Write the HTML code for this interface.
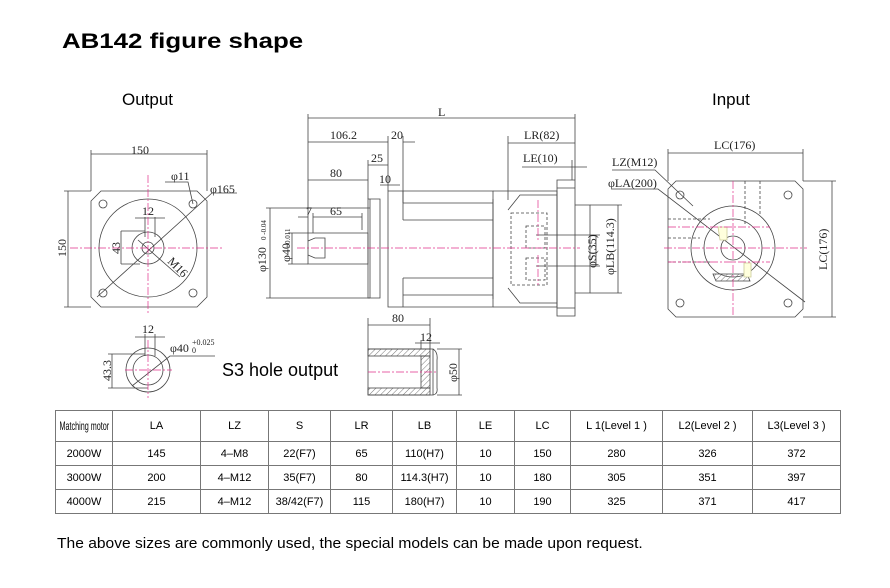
<!DOCTYPE html>
<html><head><meta charset="utf-8"><style>
body{margin:0;background:#fff;width:890px;height:588px;overflow:hidden;position:relative;font-family:"Liberation Sans",sans-serif}
.t{position:absolute;white-space:nowrap;transform-origin:0 0}
table{position:absolute;left:55px;top:410px;border-collapse:collapse;table-layout:fixed;width:785px;font-size:11px;font-family:"Liberation Sans",sans-serif}
td{border:1px solid #777;text-align:center;padding:0;height:23px;white-space:nowrap}
tr:first-child td{height:30px}
</style></head><body>
<div class="t" style="left:62px;top:30px;font-size:21px;font-weight:bold;transform:scaleX(1.23)">AB142 figure shape</div>
<div class="t" style="left:122px;top:90px;font-size:17px">Output</div>
<div class="t" style="left:712px;top:90px;font-size:17px">Input</div>
<div class="t" style="left:222px;top:360px;font-size:18px">S3 hole output</div>
<div class="t" style="left:57px;top:536px;font-size:14.5px;transform:scaleX(1.075)">The above sizes are commonly used, the special models can be made upon request.</div>
<svg width="890" height="588" style="position:absolute;left:0;top:0" font-family="Liberation Serif,serif" font-size="12">
<defs><pattern id="h" width="4" height="4" patternUnits="userSpaceOnUse" patternTransform="rotate(45)"><line x1="0" y1="0" x2="0" y2="4" stroke="#555" stroke-width="0.8"/></pattern></defs>
<g stroke="#444" stroke-width="0.8" fill="none">
<path d="M101,191 H197 L207,201 V297 L197,307 H101 L91,297 V201 Z"/>
<circle cx="148" cy="248" r="49"/><circle cx="148" cy="248" r="16"/><circle cx="148" cy="248" r="6"/>
<circle cx="103" cy="204" r="4"/><circle cx="193" cy="204" r="4"/><circle cx="103" cy="293" r="4"/><circle cx="193" cy="293" r="4"/>
<path d="M91,191 V150 M207,191 V150 M91,154 H207"/>
<path d="M91,191 H64 M91,307 H64 M68,191 V307"/>
<path d="M97,297 L212,193 H237"/>
<path d="M165,182 H188 L193,204"/>
<path d="M145,217 V237 M155,217 V237 M135,218 H165"/>
<path d="M121,231 V264 M121,231 H145 M121,264 H140"/>
<path d="M138,240 L180,277"/>
<circle cx="148" cy="370" r="22"/><circle cx="148" cy="370" r="15"/>
<path d="M145,334 V356 M155,334 V356 M135,337 H165"/>
<path d="M112,354 V388 M108,354 H145 M108,388 H148"/>
<path d="M132,386 L170,356 H215"/>
<path d="M308,118 H575 M308,114 V233 M575,114 V180"/>
<path d="M308,142 H388 M388,136 V191 M403,142 H415 M403,136 V203"/>
<path d="M508,143 H575 M508,136 V200"/>
<path d="M522,167 H587 M572,160 V180"/>
<path d="M368,165 H388 M368,160 V199"/>
<path d="M308,180 H368 M380,185 H400"/>
<path d="M298,217 H308 M313,217 H362 M313,213 V233 M362,213 V230"/>
<path d="M270,208 V298 M266,208 H370 M266,298 H370"/>
<path d="M292,233 V264 M288,233 H308 M288,264 H308"/>
<path d="M308,233 H368 V264 H308 Z"/>
<path d="M308,241 L315,238 H325 V258 H315 L308,255"/>
<path d="M368,199 H370 V298 H368 Z M370,199 H380 V298 H370 Z"/>
<path d="M388,191 H493 V307 H388 Z M403,203 H493 M403,220 H493 M403,278 H493 M403,295 H493 M403,191 V220 M403,278 V307"/>
<path d="M493,191 H557 V307 H493 M493,199 V299 M508,210 L520,195 H557 M508,288 L520,303 H557"/>
<path d="M557,180 H575 V316 H557 Z M557,188 H575 M557,308 H575"/>
<path d="M575,205 H590 V293 H575"/>
<path d="M511,213 H547 V285 H511 Z M526,226 H545 V248 H526 Z M526,258 H545 V280 H526 Z" stroke-dasharray="3,2"/>
<path d="M536,235 H600 M536,266 H600 M596,235 V266"/>
<path d="M590,205 H622 M590,293 H622 M618,205 V293"/>
<path d="M676,181 H795 L803,189 V309 L795,317 H676 L668,309 V189 Z"/>
<circle cx="733" cy="248" r="42"/><circle cx="733" cy="248" r="29"/><circle cx="733" cy="248" r="12"/>
<circle cx="680" cy="195" r="4"/><circle cx="788" cy="195" r="4"/><circle cx="680" cy="303" r="4"/><circle cx="788" cy="303" r="4"/>
<path d="M668,181 V149 M803,181 V149 M668,153 H803"/>
<path d="M803,181 H836 M803,317 H836 M832,181 V317"/>
<path d="M612,170 H655 L693,206 M612,189 H658 L805,302"/>
<path d="M668,219 H710 M668,238 H700 M668,262 H710 M745,181 V225 M760,181 V215" stroke-dasharray="3,2"/>
<path d="M713,274 H747 L750,281 H716 Z" fill="url(#h)"/>
<path d="M718,227 H727 V240 H720 Z M744,263 H751 V277 H744 Z" stroke="#cc9" fill="#ffd"/>
<path d="M368,318 V349 M430,318 V349 M368,325 H430 M421,340 V349 M415,343 H440"/>
<path d="M368,349 H433 V395 H368 Z"/>
<rect x="368" y="349" width="62" height="7" fill="url(#h)"/>
<rect x="368" y="388" width="62" height="7" fill="url(#h)"/>
<rect x="421" y="356" width="9" height="32" fill="url(#h)"/>
<path d="M433,349 Q438,352 437,360 V388 Q438,394 433,395"/>
<path d="M437,349 H462 M437,395 H462 M459,349 V395"/>
</g>
<g stroke="#e0308a" stroke-width="0.7" stroke-dasharray="8,2,2,2" fill="none">
<path d="M148,175 V315 M70,248 H222 M148,340 V398 M125,370 H172"/>
<path d="M297,248 H580"/>
<path d="M733,181 V317 M664,248 H807 M668,227 H770 M668,262 H770"/>
<path d="M368,372 H437"/>
<path d="M538,200 V240 M538,255 V285"/>
</g>
<g fill="#222">
<text x="131" y="154">150</text>
<text x="171" y="180">φ11</text>
<text x="210" y="193">φ165</text>
<text x="142" y="215">12</text>
<text x="142" y="333">12</text>
<text x="170" y="352">φ40</text><text x="192" y="345" font-size="8">+0.025</text><text x="192" y="353" font-size="8">0</text>
<text transform="translate(66,257) rotate(-90)">150</text>
<text transform="translate(120,254) rotate(-90)">43</text>
<text transform="translate(111,381) rotate(-90)">43.3</text>
<text transform="translate(167,262) rotate(45)">M16</text>
<text x="438" y="116">L</text>
<text x="330" y="139">106.2</text>
<text x="391" y="139">20</text>
<text x="524" y="139">LR(82)</text>
<text x="523" y="162">LE(10)</text>
<text x="371" y="162">25</text>
<text x="330" y="177">80</text>
<text x="379" y="183">10</text>
<text x="306" y="215">7</text>
<text x="330" y="215">65</text>
<text transform="translate(266,272) rotate(-90)">φ130</text><text transform="translate(266,240) rotate(-90)" font-size="7">0 -0.04</text>
<text transform="translate(290,262) rotate(-90)">φ40</text><text transform="translate(290,248) rotate(-90)" font-size="7">+0.011</text>
<text transform="translate(596,268) rotate(-90)">φS(35)</text>
<text transform="translate(614,275) rotate(-90)">φLB(114.3)</text>
<text x="714" y="149">LC(176)</text>
<text x="612" y="166">LZ(M12)</text>
<text x="608" y="187">φLA(200)</text>
<text transform="translate(827,270) rotate(-90)">LC(176)</text>
<text x="392" y="322">80</text>
<text x="420" y="341">12</text>
<text transform="translate(457,382) rotate(-90)">φ50</text>
</g>
</svg>
<table>
<colgroup><col style="width:57px"><col style="width:88px"><col style="width:68px"><col style="width:62px"><col style="width:62px"><col style="width:64px"><col style="width:58px"><col style="width:56px"><col style="width:92px"><col style="width:90px"><col style="width:88px"></colgroup>
<tr><td><span style="display:inline-block;font-size:12px;transform:scaleX(0.6);transform-origin:center;margin:0 -20px">Matching motor</span></td><td>LA</td><td>LZ</td><td>S</td><td>LR</td><td>LB</td><td>LE</td><td>LC</td><td>L 1(Level 1 )</td><td>L2(Level 2 )</td><td>L3(Level 3 )</td></tr>
<tr><td>2000W</td><td>145</td><td>4–M8</td><td>22(F7)</td><td>65</td><td>110(H7)</td><td>10</td><td>150</td><td>280</td><td>326</td><td>372</td></tr>
<tr><td>3000W</td><td>200</td><td>4–M12</td><td>35(F7)</td><td>80</td><td>114.3(H7)</td><td>10</td><td>180</td><td>305</td><td>351</td><td>397</td></tr>
<tr><td>4000W</td><td>215</td><td>4–M12</td><td>38/42(F7)</td><td>115</td><td>180(H7)</td><td>10</td><td>190</td><td>325</td><td>371</td><td>417</td></tr>
</table>
</body></html>
